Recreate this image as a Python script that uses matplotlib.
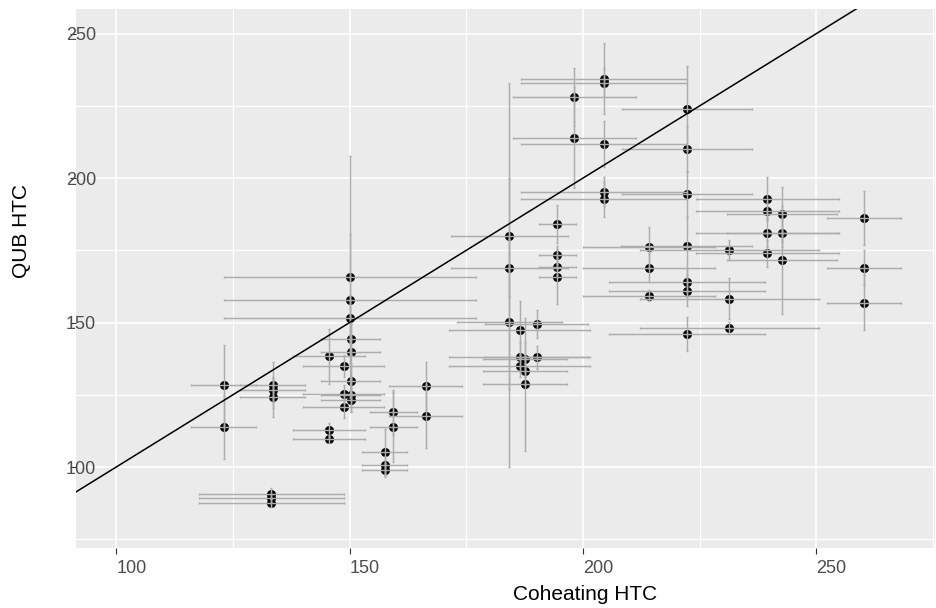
import matplotlib.pyplot as plt
from matplotlib.ticker import MultipleLocator

plt.rcParams['font.family'] = ['Liberation Sans', 'DejaVu Sans']

# Coheating HTC (x) vs QUB HTC (y), with error bars
coheating = [123.0, 123.0, 133.5, 133.5, 133.5, 133.2, 133.2, 133.2,
             145.6, 145.6, 145.6, 148.7, 148.7, 148.7,
             150.0, 150.0, 150.0, 150.2, 150.2, 150.2, 150.2, 150.2,
             157.5, 157.5, 157.5, 159.4, 159.4, 166.3, 166.3,
             184.2, 184.2, 184.2, 186.4, 186.4, 186.4, 187.6, 187.6, 187.6,
             190.1, 190.1, 194.5, 194.5, 194.5, 194.5, 198.1, 198.1,
             204.5, 204.5, 204.5, 204.5, 204.5,
             222.2, 222.2, 222.2, 222.2, 222.2, 222.2, 222.2,
             214.2, 214.2, 214.2, 231.3, 231.3, 231.3,
             239.5, 239.5, 239.5, 239.5, 242.6, 242.6, 242.6,
             260.2, 260.2, 260.2]
qub = [128.4, 113.8, 128.4, 126.6, 124.3, 90.8, 89.2, 87.6,
       138.4, 112.8, 109.6, 134.9, 125.3, 120.9,
       165.8, 157.7, 151.6, 144.3, 139.9, 129.9, 124.9, 123.2,
       105.3, 100.7, 99.0, 118.9, 113.9, 128.0, 117.6,
       180.0, 169.0, 150.1, 147.6, 138.2, 135.1, 137.3, 133.3, 128.7,
       149.5, 138.0, 184.1, 173.4, 169.3, 165.8, 228.0, 214.0,
       234.4, 233.0, 211.7, 195.2, 192.7,
       224.0, 210.0, 194.6, 176.5, 163.9, 160.9, 146.0,
       176.0, 169.0, 159.3, 175.1, 158.3, 148.2,
       192.6, 188.7, 181.1, 173.9, 187.5, 181.1, 171.6,
       186.3, 169.0, 156.9]
coheating_err = [7.0, 7.0, 7.0, 7.0, 7.0, 15.5, 15.5, 15.5,
                 7.8, 7.8, 7.8, 8.7, 8.7, 8.7,
                 27.0, 27.0, 27.0, 6.3, 6.3, 6.3, 6.3, 6.3,
                 4.8, 4.8, 4.8, 5.0, 5.0, 7.8, 7.8,
                 12.5, 12.5, 11.2, 15.0, 15.0, 15.0, 9.0, 9.0, 9.0,
                 11.0, 11.0, 4.0, 4.0, 4.0, 4.0, 13.2, 13.2,
                 17.8, 17.8, 17.8, 17.8, 17.8,
                 13.9, 13.9, 13.9, 14.0, 16.7, 16.7, 16.7,
                 14.1, 14.1, 14.1, 19.2, 19.2, 19.2,
                 15.3, 15.3, 15.3, 15.3, 11.8, 11.8, 11.8,
                 7.9, 7.9, 7.9]
qub_err = [14.0, 11.0, 8.0, 4.0, 7.0, 2.0, 1.5, 1.5,
           9.5, 2.3, 1.4, 3.8, 3.0, 4.0,
           42.0, 23.0, 8.0, 5.5, 10.0, 6.0, 5.8, 4.0,
           8.0, 3.0, 2.4, 7.7, 12.0, 8.2, 11.0,
           53.0, 10.0, 50.0, 10.0, 5.0, 4.0, 6.0, 5.0, 23.0,
           5.0, 4.0, 6.5, 3.0, 3.0, 9.5, 10.0, 17.6,
           12.4, 5.0, 8.0, 5.0, 6.0,
           14.7, 8.0, 8.0, 10.0, 5.0, 5.0, 6.0,
           7.0, 5.0, 2.0, 3.5, 7.0, 2.0,
           7.6, 3.0, 5.0, 4.6, 9.5, 5.0, 18.7,
           9.3, 6.0, 9.5]

fig = plt.figure(figsize=(9.37, 6.08), dpi=100)
ax = fig.add_axes([0.0811, 0.0987, 0.9168, 0.8865])
ax.set_facecolor('#EBEBEB')

ax.scatter(coheating, qub, s=30, color='black', zorder=2)
ax.errorbar(coheating, qub, xerr=coheating_err, yerr=qub_err, fmt='none',
            ecolor='#ADADAD', elinewidth=1.05, capsize=1.0, capthick=1.0, zorder=3)
ax.axline((0, 0), slope=1, color='black', lw=1.1, zorder=4)

ax.set_xlim(91.4, 275.4)
ax.set_ylim(72.0, 258.5)
ax.set_xticks([100, 150, 200, 250])
ax.set_yticks([100, 150, 200, 250])
ax.xaxis.set_minor_locator(MultipleLocator(25))
ax.yaxis.set_minor_locator(MultipleLocator(25))
ax.grid(which='major', color='white', lw=1.2)
ax.grid(which='minor', color='white', lw=0.9)
ax.set_axisbelow(True)
for s in ax.spines.values():
    s.set_visible(False)

ax.tick_params(which='major', length=4, width=0.8, color='#333333',
               labelsize=13, labelcolor='#4D4D4D')
ax.tick_params(which='minor', length=0)
ax.tick_params(axis='x', pad=4.7)
ax.tick_params(axis='y', pad=3.2)
plt.setp(ax.get_xticklabels(), ha='left')
plt.setp(ax.get_yticklabels(), ha='left')

ax.set_xlabel('Coheating HTC', fontsize=15)
ax.xaxis.set_label_coords(0.5087, -0.0965)
ax.xaxis.label.set_ha('left')
ax.xaxis.label.set_va('baseline')
ax.set_ylabel('QUB HTC', fontsize=15)
ax.yaxis.set_label_coords(-0.064, 0.501)
ax.yaxis.label.set_ha('left')
ax.yaxis.label.set_va('center')

fig.savefig('out.png', dpi=100)
